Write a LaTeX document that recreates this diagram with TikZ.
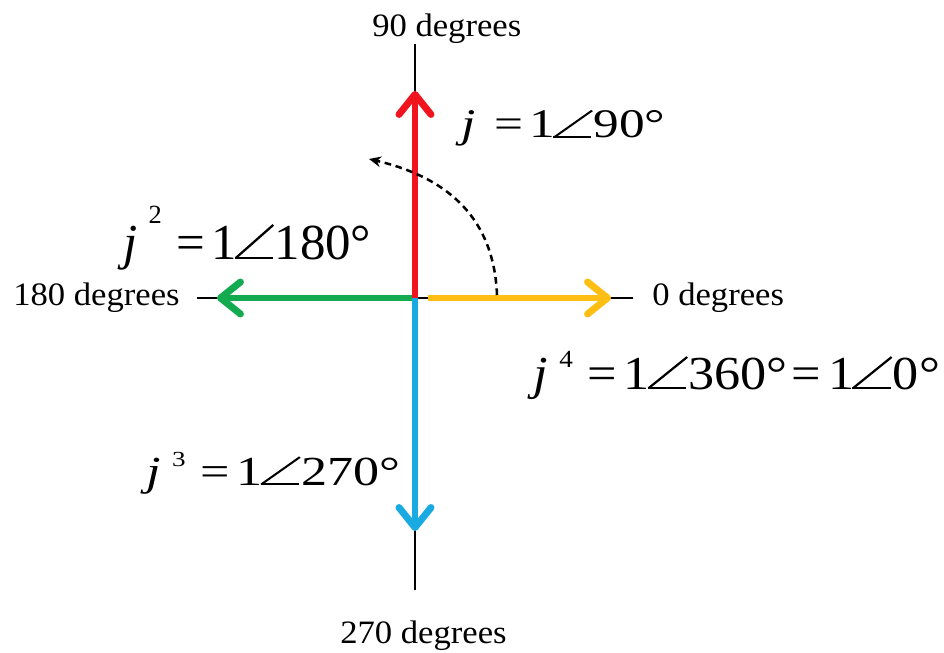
\documentclass[tikz,border=0pt]{standalone}
\usepackage{fontspec}
\setmainfont{Liberation Serif}
\usetikzlibrary{arrows.meta}
% thin angle sign built from two rules
\newcommand\myang{\hspace{-0.04em}\makebox[0.78em][l]{\rule{0.74em}{0.045em}\hspace{-0.74em}\rotatebox{41.7}{\rule{0.99em}{0.045em}}}}
\newcommand\jsup[2]{\textit{j}\hspace{0.22em}\raisebox{#2}{\scalebox{0.52}{#1}}\hspace{0.28em}}
\newcommand\eqsp{=\hspace{0.13em}}
\definecolor{cred}{RGB}{240,20,30}
\definecolor{cgreen}{RGB}{20,170,80}
\definecolor{cyellow}{RGB}{255,190,20}
\definecolor{cblue}{RGB}{25,170,225}
\tikzset{
  axisline/.style={line width=1.6pt, black},
  vec/.style={line width=5.2pt, -{Straight Barb[round, length=15pt, width=24pt]}},
  deglbl/.style={inner sep=0pt, anchor=base west, font=\fontsize{24.5}{28}\selectfont},
  mathlbl/.style={inner sep=0pt, anchor=base west},
  rot/.style={line width=1.9pt, dash pattern=on 5pt off 3.5pt, -{Stealth[length=9pt,width=8pt]}}
}
\begin{document}
\begin{tikzpicture}[x=0.75pt,y=-0.75pt]
\useasboundingbox[fill=white] (0,0) rectangle (944,652);
\coordinate (O) at (415,298);
\coordinate (N) at (415,44);
\coordinate (S) at (415,590);
\coordinate (W) at (197,298);
\coordinate (E) at (633,298);
\coordinate (rt) at (415,91);
\coordinate (gt) at (217,298);
\coordinate (yt) at (611,298);
\coordinate (bt) at (415,531);
\coordinate (ys) at (428,298);
\coordinate (a0) at (497,295);
\coordinate (a1) at (369,159);
\draw[axisline] (N) -- (S);
\draw[axisline] (W) -- (E);
\draw[vec, cgreen] (O) -- (gt);
\draw[vec, cblue] (O) -- (bt);
\draw[vec, cyellow] (ys) -- (yt);
\draw[vec, cred] (O) -- (rt);
\draw[rot] (a0) .. controls (494,220) and (450,178) .. (a1);
\node[deglbl] (n90) at (372,37) {\scalebox{1.06}[1]{90 degrees}};
\node[deglbl] (n0) at (652,305) {\scalebox{1.06}[1]{0 degrees}};
\node[deglbl] (n180) at (13,305) {\scalebox{1.06}[1]{180 degrees}};
\node[deglbl] (n270) at (340,643) {\scalebox{1.06}[1]{270 degrees}};
\node[mathlbl, font=\fontsize{30.5}{34}\selectfont] (l1) at (461,138)
  {\resizebox{153pt}{\height}{\textit{j}\hspace{0.36em}\eqsp 1\myang 90°}};
\node[mathlbl, font=\fontsize{37.8}{42}\selectfont] (l2) at (123,259)
  {\resizebox{186pt}{\height}{\jsup{2}{0.7em}\eqsp 1\myang 180°}};
\node[mathlbl, font=\fontsize{31}{35}\selectfont] (l3) at (146,485)
  {\resizebox{190.5pt}{\height}{\jsup{3}{0.45em}\eqsp 1\myang 270°}};
\node[mathlbl, font=\fontsize{35.5}{40}\selectfont] (l4) at (533,389)
  {\resizebox{305pt}{\height}{\jsup{4}{0.45em}\eqsp 1\myang 360°\hspace{0.08em}\eqsp 1\myang 0°}};
\end{tikzpicture}
\end{document}
